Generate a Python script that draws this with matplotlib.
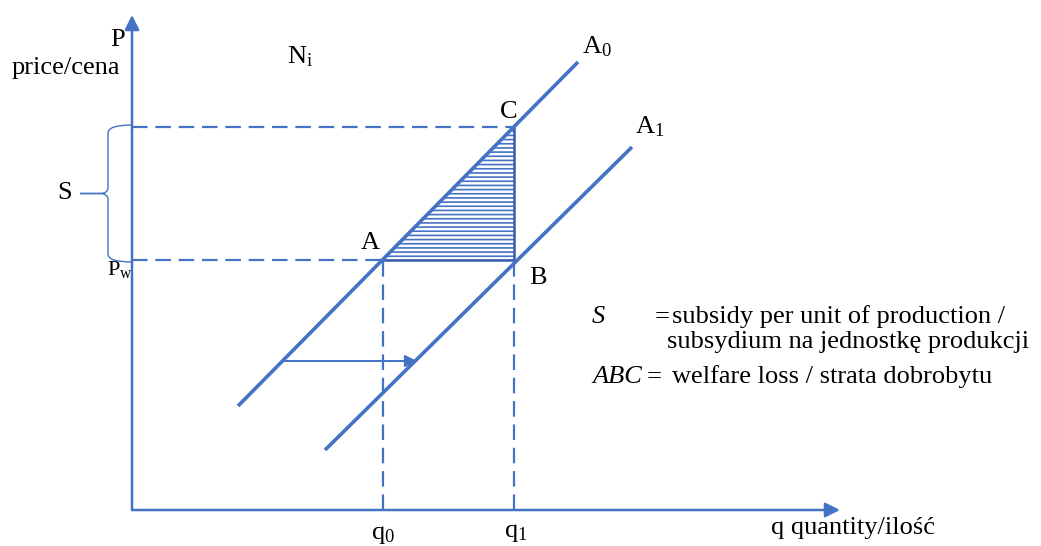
import numpy as np
import matplotlib
matplotlib.use("Agg")
import matplotlib.pyplot as plt
from matplotlib.path import Path
from matplotlib.patches import PathPatch, Polygon

plt.rcParams['font.family'] = ['Liberation Serif', 'DejaVu Serif']
plt.rcParams['mathtext.fontset'] = 'custom'
plt.rcParams['mathtext.rm'] = 'Liberation Serif'
plt.rcParams['mathtext.it'] = 'Liberation Serif:italic'
plt.rcParams['hatch.linewidth'] = 1.2

# schematic values (origin at the axes crossing)
q_axis_end = 708
p_axis_end = 495
q0, q1 = 251, 382
p_world, p_c = 250, 383
supply_a0_q = [106, 446]
supply_a0_p = [104, 448]
supply_a1_q = [193, 500]
supply_a1_p = [60, 363]
shift_q = [151, 285]
shift_p = 149
brace_top, brace_bottom = p_c, p_world

BLUE = '#4472C4'
DARK = '#3A5CA8'
FS = 19

fig = plt.figure(figsize=(10.41, 5.46), dpi=100)
ax = fig.add_axes([0, 0, 1, 1])
ax.set_xlim(-132, 909)
ax.set_ylim(-36, 510)
ax.axis('off')

# axes with arrows
arr = dict(arrowstyle='-|>', mutation_scale=22, lw=1.8, color=BLUE,
           shrinkA=0, shrinkB=0)
ax.annotate('', xy=(q_axis_end, 0), xytext=(0, 0), arrowprops=arr)
ax.annotate('', xy=(0, p_axis_end), xytext=(0, 0), arrowprops=arr)

# welfare loss triangle
tri = Polygon([(q0, p_world), (q1, p_world), (q1, p_c)], closed=True,
              facecolor='none', edgecolor=BLUE, hatch='----', lw=0)
ax.add_patch(tri)
ax.plot([q0, q1, q1], [p_world, p_world, p_c], color=DARK, lw=1.8)

# dashed guides
dash = dict(color=BLUE, lw=1.6, linestyle=(0, (7, 3.5)))
ax.plot([0, q1], [p_c, p_c], **dash)
ax.plot([0, q0], [p_world, p_world], **dash)
ax.plot([q0, q0], [0, p_world], **dash)
ax.plot([q1, q1], [0, p_world], **dash)

# supply curves
ax.plot(supply_a0_q, supply_a0_p, color=BLUE, lw=2.6, solid_capstyle='butt')
ax.plot(supply_a1_q, supply_a1_p, color=BLUE, lw=2.6, solid_capstyle='butt')

# shift arrow
ax.annotate('', xy=(shift_q[1], shift_p), xytext=(shift_q[0], shift_p),
            arrowprops=dict(arrowstyle='-|>', mutation_scale=18, lw=1.4,
                            color=BLUE, shrinkA=0, shrinkB=0))

# brace for S
bx = -24
mid = (brace_top + brace_bottom) / 2
verts = [(0, brace_top + 2), (bx, brace_top + 2), (bx, brace_top - 6),
         (bx, mid + 6),
         (bx, mid), (bx - 8, mid),
         (-52, mid),
         (bx - 8, mid), (bx, mid), (bx, mid - 6),
         (bx, brace_bottom + 6),
         (bx, brace_bottom - 2), (0, brace_bottom - 2)]
codes = [Path.MOVETO, Path.CURVE3, Path.CURVE3, Path.LINETO,
         Path.CURVE3, Path.CURVE3, Path.LINETO,
         Path.LINETO, Path.CURVE3, Path.CURVE3, Path.LINETO,
         Path.CURVE3, Path.CURVE3]
ax.add_patch(PathPatch(Path(verts, codes), facecolor='none', edgecolor=BLUE,
                       lw=1.0))

# labels
ax.text(-14, 470, 'P', fontsize=FS, ha='center', va='center')
ax.text(-66, 442, 'price/cena', fontsize=FS, ha='center', va='center')
ax.text(168, 453, r'N$_{\mathrm{i}}$', fontsize=FS, ha='center', va='center')
ax.text(377, 398, 'C', fontsize=FS, ha='center', va='center')
ax.text(238, 267, 'A', fontsize=FS, ha='center', va='center')
ax.text(406, 232, 'B', fontsize=FS, ha='center', va='center')
ax.text(465, 463, r'A$_{0}$', fontsize=FS, ha='center', va='center')
ax.text(518, 383, r'A$_{1}$', fontsize=FS, ha='center', va='center')
ax.text(-12, 241, r'P$_{\mathrm{w}}$', fontsize=16, ha='center', va='center')
ax.text(-67, 317, 'S', fontsize=FS, ha='center', va='center')
ax.text(251, -25, r'q$_{0}$', fontsize=FS, ha='center', va='center')
ax.text(384, -23, r'q$_{1}$', fontsize=FS, ha='center', va='center')
ax.text(721, -18, 'q quantity/ilość', fontsize=FS, ha='center', va='center')

# legend text
ax.text(460, 193, 'S', fontsize=FS, style='italic', ha='left', va='center')
ax.text(523, 193, '=', fontsize=FS, ha='left', va='center')
ax.text(540, 193, 'subsidy per unit of production /', fontsize=FS,
        ha='left', va='center')
ax.text(535, 168, 'subsydium na jednostkę produkcji', fontsize=FS,
        ha='left', va='center')
ax.text(460, 133, 'ABC', fontsize=FS, style='italic', ha='left', va='center')
ax.text(515, 133, '=', fontsize=FS, ha='left', va='center')
ax.text(540, 133, 'welfare loss / strata dobrobytu', fontsize=FS,
        ha='left', va='center')

fig.savefig('out.png', dpi=100)
